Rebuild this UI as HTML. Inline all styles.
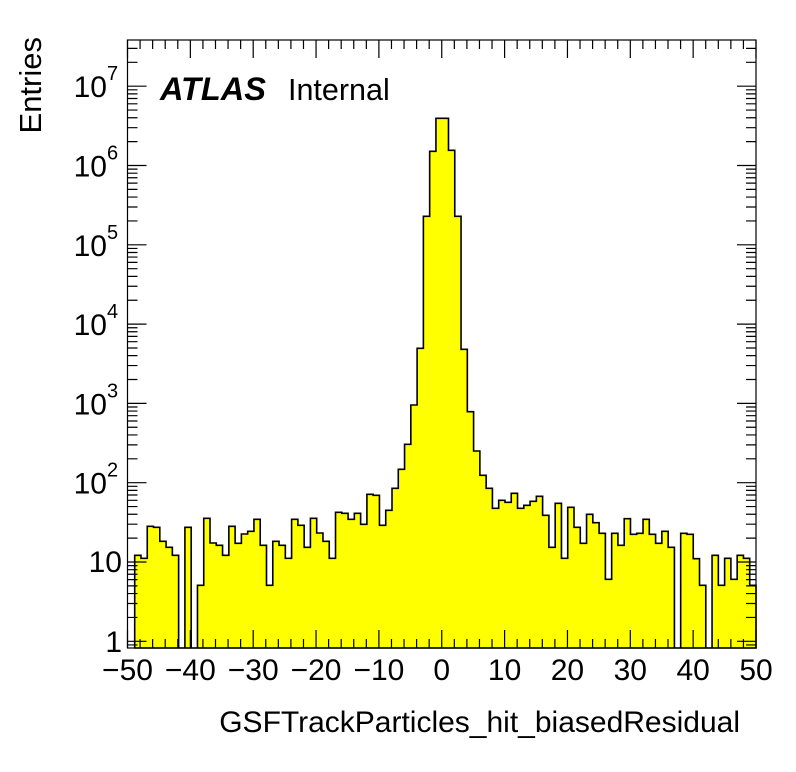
<!DOCTYPE html>
<html><head><meta charset="utf-8"><style>
html,body{margin:0;padding:0;background:#fff;}
svg{display:block;font-family:"Liberation Sans",sans-serif;}
</style></head><body>
<svg id="s" width="796" height="772" xmlns="http://www.w3.org/2000/svg">
<rect width="796" height="772" fill="#fff"/>
<g id="hist"></g>
<g id="axes" stroke="#000" stroke-width="1.2" fill="none"></g>
<g id="labels" font-size="30" fill="#000"></g>
<text x="160" y="100" font-size="32.5" font-weight="bold" font-style="italic" fill="#000">ATLAS</text>
<text x="288" y="100" font-size="30.5" fill="#000">Internal</text>
<text x="740" y="732" font-size="30" text-anchor="end" fill="#000">GSFTrackParticles_hit_biasedResidual</text>
<text transform="translate(41,37) rotate(-90)" font-size="31" text-anchor="end" fill="#000">Entries</text>
</svg>
<script>
var tops=[555.3,558.3,526.3,527.3,541.3,547.3,555.3,648,527.3,648,585.3,518.3,543,545.3,555.3,526.3,543.3,534,531.3,519.3,545.3,585.3,541.3,545.3,558.3,519.3,525.3,547.3,518.3,533,541.3,558.3,512.3,513.3,519.3,513.3,524.3,494.3,495.3,525.3,510.3,488.3,
469.3,444.3,405,348.3,216.3,151.3,118.3,118.3,150.3,216.3,349.3,411.7,451,475.3,488.3,
508.3,500.3,502.3,493.3,508.3,505.3,501.3,496.3,515.3,547.3,503.3,558.3,507.3,527.3,543.3,514.3,522.7,533.3,579.3,533.3,545.3,518.7,534.3,533.3,519.3,534.3,543.3,531.3,547.3,648,533.3,534.3,558.7,585.3,648,555.3,585.3,558.3,579.3,555.3,558.3,585.3];
var x0=134.7,w=(756-134.7)/tops.length,B=648;
var d="M"+x0+","+B;
for(var i=0;i<tops.length;i++){var a=x0+i*w,b=a+w;d+=" L"+a.toFixed(2)+","+tops[i]+" L"+b.toFixed(2)+","+tops[i];}
d+=" L756,"+B+" Z";
var ns="http://www.w3.org/2000/svg";
function el(t,at,p){var e=document.createElementNS(ns,t);for(var k in at)e.setAttribute(k,at[k]);p.appendChild(e);return e;}
var h=document.getElementById("hist");
el("path",{d:d,fill:"#ffff00",stroke:"#000","stroke-width":"1.6","stroke-linejoin":"miter"},h);
var ax=document.getElementById("axes");
var L=127.5,R=756,T=40;
el("rect",{x:L,y:T,width:R-L,height:B-T},ax);
var sx=(R-L)/100;
var pd="";
for(var v=-50;v<=50;v+=2){var x=L+(v+50)*sx;var len=(v%10==0)?18:9;pd+="M"+x+","+B+"v"+(-len)+"M"+x+","+T+"v"+len;}
var y1=641.3,dec=79.3;
for(var e=0;e<8;e++){for(var m=1;m<10;m++){var y=y1-(e+Math.log10(m))*dec;if(y<T||y>B)continue;var len=(m==1)?19:10;pd+="M"+L+","+y+"h"+len+"M"+R+","+y+"h"+(-len);}}
for(var m=8;m<10;m++){var y=y1-Math.log10(m/10)*dec;if(y<=B)pd+="M"+L+","+y+"h10M"+R+","+y+"h-10";}
el("path",{d:pd},ax);
var lb=document.getElementById("labels");
for(var v=-50;v<=50;v+=10){var x=L+(v+50)*sx;var t=el("text",{x:x,y:680,"text-anchor":"middle"},lb);t.textContent=(v<0?"\u2212"+(-v):""+v);}
var t=el("text",{x:122,y:652,"text-anchor":"end"},lb);t.textContent="1";
t=el("text",{x:122,y:572,"text-anchor":"end"},lb);t.textContent="10";
for(var e=2;e<=7;e++){var y=y1-e*dec;
 t=el("text",{x:107,y:y+11,"text-anchor":"end"},lb);t.textContent="10";
 t=el("text",{x:107,y:y-6,"font-size":"20"},lb);t.textContent=""+e;}
</script>
</body></html>
